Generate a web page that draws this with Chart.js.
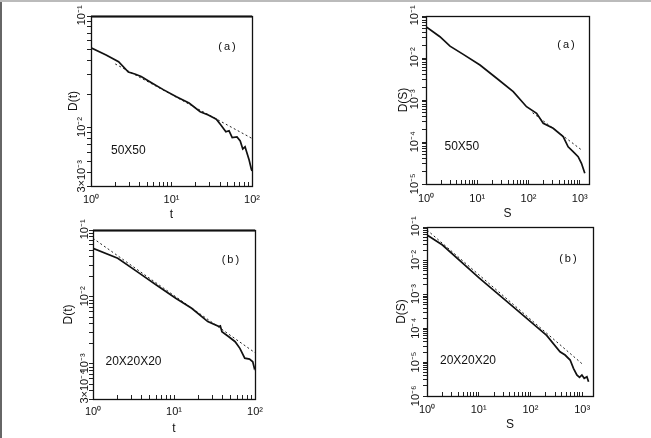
<!DOCTYPE html>
<html><head><meta charset="utf-8">
<script src="https://cdn.jsdelivr.net/npm/chart.js@4.4.1/dist/chart.umd.min.js"></script>
<style>
html,body{margin:0;padding:0;background:#fff;}
#wrap{position:relative;width:651px;height:438px;overflow:hidden;background:#fff;}
#wrap canvas{position:absolute;}
#edgeL{position:absolute;left:0;top:0;width:2px;height:438px;background:#666;}
#edgeT{position:absolute;left:0;top:0;width:651px;height:2px;background:#bbb;}
</style></head><body>
<div id="wrap">
<canvas id="c1"></canvas><canvas id="c2"></canvas><canvas id="c3"></canvas><canvas id="c4"></canvas>
<div id="edgeL"></div><div id="edgeT"></div>
</div>
<script>
// ---------- DATA ----------
// (a) top-left: D(t), 50X50
const aTimeT = [1, 1.54, 2.2, 2.91, 3.5, 4.2, 5.5, 7.9, 11.5, 16.5, 22.7, 28.6, 36, 41, 47.3, 51.8, 56.7, 65, 71.3, 76.7, 81.9, 85.5, 92, 98, 100];
const aTimeD = [0.052, 0.0448, 0.0389, 0.0315, 0.0302, 0.0287, 0.0255, 0.0219, 0.0189, 0.0166, 0.0139, 0.0130, 0.0119, 0.01054, 0.00918, 0.00937, 0.00813, 0.00824, 0.00759, 0.00645, 0.00674, 0.00608, 0.00513, 0.00425, 0.0041];
const aTimeFitT = [2, 100];
const aTimeFitD = [0.0372, 0.0080];
// (a) top-right: D(S), 50X50
const aSizeS = [1, 1.87, 2.94, 5.34, 11.3, 23.9, 50.4, 91.6, 144, 194, 303, 475, 594, 743, 931, 1081, 1256];
const aSizeD = [0.0557, 0.0321, 0.0192, 0.0122, 0.00681, 0.00329, 0.00158, 0.000693, 0.000482, 0.000279, 0.000212, 0.000134, 7.7e-5, 5.9e-5, 4.47e-5, 3.11e-5, 1.8e-5];
const aSizeFitS = [120, 1080];
const aSizeFitD = [4.98e-4, 6.5e-5];
// (b) bottom-left: D(t), 20X20X20
const bTimeT = [1, 2.02, 3.5, 6.05, 10.5, 16.5, 26.1, 36, 37.3, 39, 47, 56.8, 65, 74.6, 85.5, 93.7, 98, 100];
const bTimeD = [0.0533, 0.0378, 0.0239, 0.0151, 0.00957, 0.00678, 0.00429, 0.00361, 0.00369, 0.00303, 0.00257, 0.00215, 0.00171, 0.00122, 0.00118, 0.00108, 0.000863, 0.00091];
const bTimeFitT = [1, 100];
const bTimeFitD = [0.0752, 0.00147];
// (b) bottom-right: D(S), 20X20X20
const bSizeS = [1, 1.99, 10.3, 46, 206, 374, 469, 587, 681, 791, 891, 991, 1099, 1240, 1333];
const bSizeD = [0.058, 0.0293, 0.00305, 4.39e-4, 6.2e-5, 2.04e-5, 1.63e-5, 1.16e-5, 6.6e-6, 4.18e-6, 3.57e-6, 4.18e-6, 3.33e-6, 3.7e-6, 2.65e-6];
const bSizeFitS = [1, 1065];
const bSizeFitD = [0.0815, 8.26e-6];

// tick labels
const xTimeLabelValues = [1, 10, 100];
const xTimeLabelTexts = ['10⁰', '10¹', '10²'];
const xSizeLabelValues = [1, 10, 100, 1000];
const xSizeLabelTexts = ['10⁰', '10¹', '10²', '10³'];
const aTimeYLabelValues = [0.1, 0.01, 0.003];
const aTimeYLabelTexts = ['10⁻¹', '10⁻²', '3×10⁻³'];
const bTimeYLabelValues = [0.1, 0.01, 0.001, 0.0003];
const bTimeYLabelTexts = ['10⁻¹', '10⁻²', '10⁻³', '3×10⁻⁴'];
const aSizeYLabelValues = [1e-1, 1e-2, 1e-3, 1e-4, 1e-5];
const aSizeYLabelTexts = ['10⁻¹', '10⁻²', '10⁻³', '10⁻⁴', '10⁻⁵'];
const bSizeYLabelValues = [1e-1, 1e-2, 1e-3, 1e-4, 1e-5, 1e-6];
const bSizeYLabelTexts = ['10⁻¹', '10⁻²', '10⁻³', '10⁻⁴', '10⁻⁵', '10⁻⁶'];

// ---------- helpers ----------
const FONT = "'Liberation Sans', Arial, sans-serif";
const meas = document.createElement('canvas').getContext('2d');
function textW(t, size){ meas.font = size + 'px ' + FONT; return meas.measureText(t).width; }
function logTicks(min, max){
  const out = [];
  for (let e = -7; e <= 4; e++){
    for (let m = 1; m <= 9; m++){
      const v = +(m * Math.pow(10, e)).toPrecision(6);
      if (v >= min * 0.9999 && v <= max * 1.0001) out.push(v);
    }
  }
  return out;
}
function findLabel(vals, texts, v){
  for (let i = 0; i < vals.length; i++) if (Math.abs(vals[i] - v) / vals[i] < 1e-6) return texts[i];
  return null;
}
const ANCH = 32; // anchor distance above the tick for rotated y labels
function padY(text, topOff, size){
  const w = textW(text, size);
  const t = (topOff == null) ? w / 2 : topOff;
  const s = Math.max(0, ANCH - t);
  const sp = textW(' ', size);
  return text + ' '.repeat(Math.round(s / sp));
}
const frameAndText = {
  id: 'frameAndText',
  afterDraw(chart, args, o){
    const {ctx, chartArea: a} = chart;
    ctx.save();
    ctx.strokeStyle = '#111';
    ctx.lineWidth = 1.3;
    ctx.strokeRect(Math.round(a.left) + 0.5, Math.round(a.top) + 0.5, Math.round(a.right - a.left), Math.round(a.bottom - a.top));
    if (o.thickTop){
      ctx.lineWidth = 2.2;
      ctx.beginPath(); ctx.moveTo(a.left, a.top + 0.5); ctx.lineTo(a.right, a.top + 0.5); ctx.stroke();
    }
    ctx.fillStyle = '#111';
    ctx.textAlign = 'center';
    ctx.textBaseline = 'middle';
    (o.notes || []).forEach(n => {
      ctx.font = n.size + 'px ' + FONT;
      if ('letterSpacing' in ctx) ctx.letterSpacing = (n.ls || 0) + 'px';
      ctx.fillText(n.text, a.left + n.fx * (a.right - a.left), a.top + n.fy * (a.bottom - a.top));
    });
    ctx.restore();
  }
};
const YW = 50, PT = 14, PR = 12, XH = 44;
function makePanel(p){
  const cv = document.getElementById(p.id);
  const w = p.R - p.L + YW + PR, h = p.B - p.T + PT + XH;
  cv.width = w; cv.height = h;
  cv.style.width = w + 'px'; cv.style.height = h + 'px';
  cv.style.left = (p.L - YW) + 'px'; cv.style.top = (p.T - PT) + 'px';
  const yTicks = logTicks(p.ymin, p.ymax);
  const xTicks = logTicks(p.xmin, p.xmax);
  return new Chart(cv, {
    type: 'scatter',
    data: {
      datasets: [
        { data: p.sx.map((x, i) => ({x, y: p.sy[i]})), showLine: true, borderColor: '#111', borderWidth: 1.7, pointRadius: 0, tension: 0 },
        { data: p.fx.map((x, i) => ({x, y: p.fy[i]})), showLine: true, borderColor: '#222', borderWidth: 1, borderDash: [2, 2.5], pointRadius: 0, tension: 0 }
      ]
    },
    options: {
      responsive: false, animation: false, events: [],
      layout: { padding: { left: 0, top: PT, right: PR, bottom: 0 } },
      plugins: { legend: { display: false }, tooltip: { enabled: false },
        frameAndText: { thickTop: p.thickTop, notes: p.notes } },
      scales: {
        x: {
          type: 'logarithmic', min: p.xmin, max: p.xmax, position: 'bottom',
          afterBuildTicks(s){ s.ticks = xTicks.map(v => ({value: v})); },
          afterFit(s){ s.height = XH; },
          grid: { display: true, drawOnChartArea: false, drawTicks: true, tickLength: -4, color: '#222', lineWidth: 1 },
          border: { display: false },
          ticks: { autoSkip: false, maxRotation: 0, minRotation: 0, padding: p.xPad, color: '#111',
            font: { family: FONT, size: 11 },
            callback: (v) => findLabel(p.xlv, p.xlt, v) || '' },
          title: { display: true, text: p.xTitle, color: '#111', font: { family: FONT, size: 12 }, padding: { top: 0, bottom: p.xTitlePad } }
        },
        y: {
          type: 'logarithmic', min: p.ymin, max: p.ymax, position: 'left',
          afterBuildTicks(s){ s.ticks = yTicks.map(v => ({value: v})); },
          afterFit(s){ s.width = YW; },
          grid: { display: true, drawOnChartArea: false, drawTicks: true, tickLength: 4, color: '#222', lineWidth: 1 },
          border: { display: false },
          ticks: { autoSkip: false, minRotation: 90, maxRotation: 90, padding: p.yPad, labelOffset: -ANCH, color: '#111',
            font: { family: FONT, size: 11 },
            callback: (v) => {
              const t = findLabel(p.ylv, p.ylt, v);
              if (!t) return '';
              const longOff = (p.longTop != null && t.indexOf('×') >= 0) ? p.longTop : null;
              return padY(t, longOff, 11);
            } },
          title: { display: true, text: p.yTitle, color: '#111', font: { family: FONT, size: 12 }, padding: { top: p.yTitlePad, bottom: 0 } }
        }
      }
    },
    plugins: [frameAndText]
  });
}

makePanel({ id: 'c1', L: 91, T: 16, R: 259, B: 186, xmin: 1, xmax: 100, ymin: 0.003, ymax: 0.1,
  sx: aTimeT, sy: aTimeD, fx: aTimeFitT, fy: aTimeFitD,
  xlv: xTimeLabelValues, xlt: xTimeLabelTexts, ylv: aTimeYLabelValues, ylt: aTimeYLabelTexts,
  xTitle: 't', yTitle: 'D(t)', xPad: 11, xTitlePad: 8, yPad: 5, yTitlePad: 25, longTop: 26, thickTop: true,
  notes: [{text: '(a)', fx: 0.851, fy: 0.18, size: 11, ls: 2}, {text: '50X50', fx: 0.232, fy: 0.79, size: 12}] });
makePanel({ id: 'c2', L: 426, T: 16, R: 589, B: 184, xmin: 1, xmax: 1517, ymin: 1e-5, ymax: 0.1,
  sx: aSizeS, sy: aSizeD, fx: aSizeFitS, fy: aSizeFitD,
  xlv: xSizeLabelValues, xlt: xSizeLabelTexts, ylv: aSizeYLabelValues, ylt: aSizeYLabelTexts,
  xTitle: 'S', yTitle: 'D(S)', xPad: 12, xTitlePad: 7, yPad: 7, yTitlePad: 20, longTop: null, thickTop: false,
  notes: [{text: '(a)', fx: 0.865, fy: 0.17, size: 11, ls: 2}, {text: '50X50', fx: 0.22, fy: 0.78, size: 12}] });
makePanel({ id: 'c3', L: 93, T: 230, R: 261, B: 399, xmin: 1, xmax: 100, ymin: 0.0003, ymax: 0.1,
  sx: bTimeT, sy: bTimeD, fx: bTimeFitT, fy: bTimeFitD,
  xlv: xTimeLabelValues, xlt: xTimeLabelTexts, ylv: bTimeYLabelValues, ylt: bTimeYLabelTexts,
  xTitle: 't', yTitle: 'D(t)', xPad: 10, xTitlePad: 7, yPad: 4, yTitlePad: 18, longTop: 29, thickTop: true,
  notes: [{text: '(b)', fx: 0.854, fy: 0.175, size: 11, ls: 2}, {text: '20X20X20', fx: 0.25, fy: 0.78, size: 12}] });
makePanel({ id: 'c4', L: 427, T: 227, R: 593, B: 396, xmin: 1, xmax: 1625, ymin: 1e-6, ymax: 0.1,
  sx: bSizeS, sy: bSizeD, fx: bSizeFitS, fy: bSizeFitD,
  xlv: xSizeLabelValues, xlt: xSizeLabelTexts, ylv: bSizeYLabelValues, ylt: bSizeYLabelTexts,
  xTitle: 'S', yTitle: 'D(S)', xPad: 11, xTitlePad: 8, yPad: 7, yTitlePad: 17, longTop: null, thickTop: false,
  notes: [{text: '(b)', fx: 0.855, fy: 0.19, size: 11, ls: 2}, {text: '20X20X20', fx: 0.247, fy: 0.79, size: 12}] });
</script>
</body></html>
